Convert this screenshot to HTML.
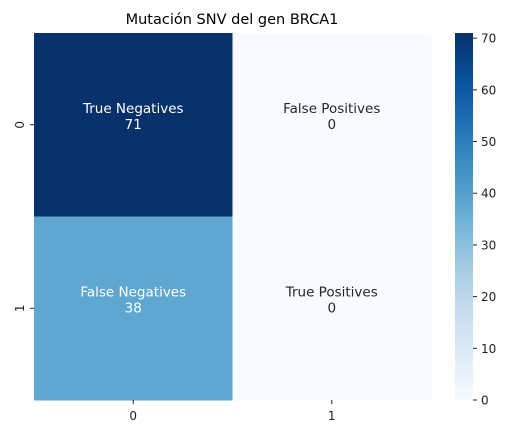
<!DOCTYPE html>
<html><head><meta charset="utf-8"><style>
body{margin:0;background:#fff;font-family:"DejaVu Sans","Liberation Sans",sans-serif;}
</style></head><body>
<svg id="chart" width="511" height="436" xmlns="http://www.w3.org/2000/svg">
<defs><linearGradient id="cb" x1="0" y1="1" x2="0" y2="0">
<stop offset="0" stop-color="#f7fbff"/><stop offset="0.125" stop-color="#deebf7"/><stop offset="0.25" stop-color="#c6dbef"/><stop offset="0.375" stop-color="#9ecae1"/><stop offset="0.5" stop-color="#6baed6"/><stop offset="0.625" stop-color="#4292c6"/><stop offset="0.75" stop-color="#2171b5"/><stop offset="0.875" stop-color="#08519c"/><stop offset="1" stop-color="#08306b"/>
</linearGradient></defs>
<text x="232" y="24" font-size="14.5" text-anchor="middle" fill="#000">Mutación SNV del gen BRCA1</text>
<g id="cells"></g>
<rect x="455" y="33" width="18" height="367" fill="url(#cb)"/>
<g id="axes" style="font-size:12px" fill="#222"></g>
</svg>
<script>
const rowLabels=["0","1"];
const colLabels=["0","1"];
const cellNames=[["True Negatives","False Positives"],["False Negatives","True Positives"]];
const values=[[71,0],[38,0]];
const cbTicks=[0,10,20,30,40,50,60,70];
const vmin=0,vmax=71;
const X0=34,X1=431,Y0=33,Y1=400;
const stops=["#f7fbff","#deebf7","#c6dbef","#9ecae1","#6baed6","#4292c6","#2171b5","#08519c","#08306b"];
function hex(h){return [1,3,5].map(i=>parseInt(h.substr(i,2),16));}
function color(v){let t=(v-vmin)/(vmax-vmin)*8;let i=Math.min(7,Math.floor(t));let f=t-i;let a=hex(stops[i]),b=hex(stops[i+1]);return "rgb("+a.map((c,k)=>Math.round(c+(b[k]-c)*f)).join(",")+")";}
const cw=(X1-X0)/colLabels.length,ch=(Y1-Y0)/rowLabels.length;
const NS="http://www.w3.org/2000/svg";
const cells=document.getElementById('cells'),axes=document.getElementById('axes');
function mk(tag,attrs,parent){const e=document.createElementNS(NS,tag);for(const k in attrs)e.setAttribute(k,attrs[k]);parent.appendChild(e);return e;}
values.forEach((row,r)=>row.forEach((v,c)=>{
 const rc=mk('rect',{x:X0+c*cw,y:Y0+r*ch,width:cw+0.5,height:ch+0.5,fill:color(v)},cells);
 
 
 const light=(v-vmin)/(vmax-vmin)>0.45;
 const cx=X0+(c+0.5)*cw,cy=Y0+(r+0.5)*ch;
 const t=mk('text',{x:cx,y:cy-12,'font-size':13.5,'text-anchor':'middle',fill:light?'#fff':'#262626'},cells);
 t.textContent=cellNames[r][c];
 
 
 const t2=mk('text',{x:cx,y:cy+4,'font-size':13.5,'text-anchor':'middle',fill:light?'#fff':'#262626'},cells);
 t2.textContent=v;
 
 
}));
colLabels.forEach((l,i)=>{const x=X0+(i+0.5)*cw;
 mk('line',{x1:x,x2:x,y1:Y1,y2:Y1+4,stroke:'#222'},axes);
 const t=mk('text',{x:x,y:Y1+20,'text-anchor':'middle'},axes);t.textContent=l;
 
 });
rowLabels.forEach((l,i)=>{const y=Y0+(i+0.5)*ch;
 mk('line',{x1:X0-4,x2:X0,y1:y,y2:y,stroke:'#222'},axes);
 const t=mk('text',{x:X0-10,y:y,'text-anchor':'middle',transform:'rotate(-90 '+(X0-10)+' '+y+')'},axes);t.textContent=l;
 
 });
cbTicks.forEach(v=>{const y=Y1-(v-vmin)/(vmax-vmin)*(Y1-Y0);
 mk('line',{x1:473,x2:477,y1:y,y2:y,stroke:'#222'},axes);
 const t=mk('text',{x:481,y:y+4.5},axes);t.textContent=v;
 
 });
</script>
</body></html>
